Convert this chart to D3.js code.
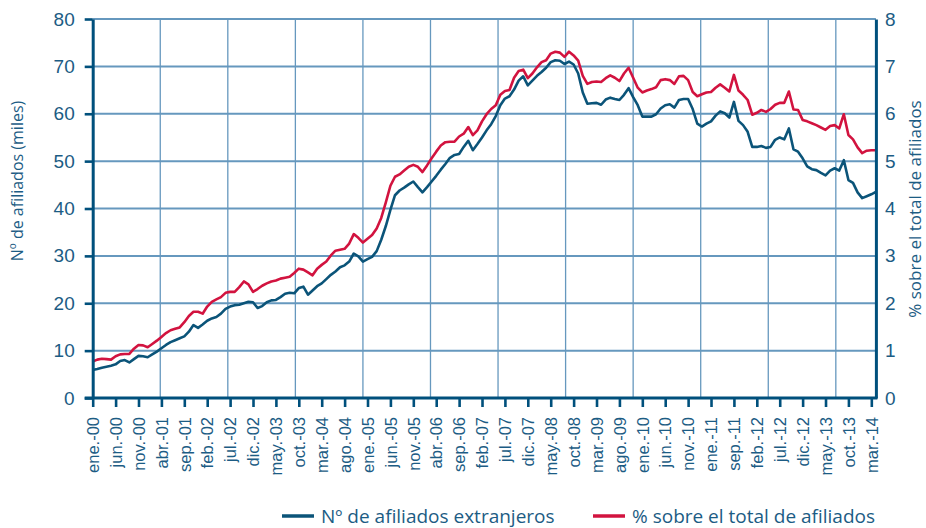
<!DOCTYPE html>
<html lang="es">
<head>
<meta charset="utf-8">
<script src="https://cdn.jsdelivr.net/npm/d3@7"></script>
<style>
  html, body { margin: 0; padding: 0; background: #fff; }
  svg { display: block; font-family: "Open Sans", "Noto Sans", sans-serif; }
</style>
</head>
<body>
<svg id="chart" width="926" height="528"></svg>
<script>
// Etiquetas del eje de meses (una cada cinco meses, desde enero de 2000)
const tickLabels = [
  "ene.-00", "jun.-00", "nov.-00", "abr.-01", "sep.-01", "feb.-02", "jul.-02",
  "dic.-02", "may.-03", "oct.-03", "mar.-04", "ago.-04", "ene.-05", "jun.-05",
  "nov.-05", "abr.-06", "sep.-06", "feb.-07", "jul.-07", "dic.-07", "may.-08",
  "oct.-08", "mar.-09", "ago.-09", "ene.-10", "jun.-10", "nov.-10", "ene.-11",
  "sep.-11", "feb.-12", "jul.-12", "dic.-12", "may.-13", "oct.-13", "mar.-14"
];
const tickEvery = 5;

// Nº de afiliados extranjeros (miles), un valor por mes
const afiliados = [
  5.9, 6.1, 6.4, 6.6, 6.8, 7.1, 7.8, 8.0, 7.5, 8.2, 8.9, 8.8,
  8.6, 9.2, 9.8, 10.5, 11.2, 11.8, 12.2, 12.6, 13.0, 14.0, 15.4, 14.8,
  15.5, 16.3, 16.8, 17.1, 17.8, 18.8, 19.3, 19.6, 19.7, 20.0, 20.3, 20.2,
  19.0, 19.4, 20.2, 20.6, 20.7, 21.3, 22.0, 22.2, 22.1, 23.2, 23.5, 21.8,
  22.7, 23.6, 24.2, 25.1, 26.0, 26.7, 27.6, 28.0, 28.8, 30.5, 29.9, 28.8,
  29.3, 29.8, 31.0, 33.4, 36.3, 39.7, 42.8, 43.8, 44.4, 45.1, 45.7, 44.5,
  43.4, 44.5, 45.7, 46.9, 48.2, 49.4, 50.7, 51.3, 51.5, 53.0, 54.3, 52.3,
  53.6, 55.0, 56.5, 57.8, 59.5, 61.8, 63.2, 63.7, 65.1, 67.0, 67.9, 66.0,
  67.0, 68.0, 68.8, 69.7, 70.9, 71.3, 71.2, 70.5, 71.0, 70.4, 68.5, 64.5,
  62.1, 62.2, 62.3, 61.9, 63.0, 63.4, 63.1, 62.9, 64.0, 65.4, 63.5, 61.8,
  59.4, 59.4, 59.4, 59.9, 61.1, 61.8, 62.0, 61.3, 62.9, 63.1, 63.1, 61.0,
  57.9, 57.3, 57.9, 58.4, 59.6, 60.5, 60.1, 59.2, 62.5, 58.5, 57.6, 56.2,
  53.0, 53.0, 53.2, 52.8, 53.0, 54.5, 55.0, 54.6, 56.9, 52.5, 52.0, 50.6,
  48.9, 48.3, 48.1, 47.5, 47.0, 48.0, 48.5, 48.0, 50.2, 46.0, 45.4, 43.4,
  42.2, 42.6, 43.0, 43.5
];

// % sobre el total de afiliados, un valor por mes
const porcentaje = [
  0.77, 0.81, 0.83, 0.82, 0.81, 0.88, 0.92, 0.93, 0.93, 1.04, 1.12, 1.11,
  1.07, 1.14, 1.21, 1.29, 1.37, 1.43, 1.46, 1.49, 1.60, 1.73, 1.82, 1.82,
  1.78, 1.93, 2.03, 2.08, 2.13, 2.22, 2.24, 2.24, 2.34, 2.46, 2.40, 2.24,
  2.30, 2.37, 2.42, 2.46, 2.48, 2.52, 2.54, 2.56, 2.64, 2.73, 2.71, 2.65,
  2.59, 2.73, 2.81, 2.88, 3.01, 3.11, 3.13, 3.15, 3.26, 3.46, 3.38, 3.28,
  3.36, 3.44, 3.58, 3.80, 4.13, 4.48, 4.67, 4.72, 4.80, 4.88, 4.92, 4.88,
  4.77, 4.91, 5.06, 5.20, 5.33, 5.40, 5.41, 5.41, 5.52, 5.58, 5.72, 5.55,
  5.65, 5.84, 5.99, 6.10, 6.18, 6.40, 6.48, 6.50, 6.76, 6.90, 6.93, 6.75,
  6.85, 6.98, 7.09, 7.13, 7.27, 7.31, 7.29, 7.20, 7.31, 7.23, 7.12, 6.80,
  6.63, 6.67, 6.68, 6.67, 6.75, 6.81, 6.76, 6.69, 6.85, 6.97, 6.76, 6.55,
  6.45, 6.49, 6.52, 6.56, 6.71, 6.73, 6.71, 6.63, 6.79, 6.80, 6.71, 6.46,
  6.37, 6.41, 6.45, 6.46, 6.55, 6.62, 6.55, 6.47, 6.82, 6.49, 6.40, 6.29,
  5.98, 6.02, 6.08, 6.04, 6.10, 6.19, 6.23, 6.23, 6.47, 6.09, 6.08, 5.87,
  5.84, 5.80, 5.76, 5.71, 5.66, 5.74, 5.76, 5.69, 5.99, 5.55, 5.46, 5.29,
  5.17, 5.22, 5.23, 5.23
];

const leftTicks = [0, 10, 20, 30, 40, 50, 60, 70, 80];
const rightTicks = [0, 1, 2, 3, 4, 5, 6, 7, 8];
const seriesNames = ["Nº de afiliados extranjeros", "% sobre el total de afiliados"];
const axisTitles = ["Nº de afiliados (miles)", "% sobre el total de afiliados"];

const colBlue = "#0b5479";
const colRed = "#d2133f";
const colAxis = "#00507c";
const colText = "#1c5c84";
const colGrid = "#6698be";

const svg = d3.select("#chart");
const plotLeft = 92.7, plotRight = 875.9, plotTop = 19, plotBottom = 398;

const x = d3.scaleLinear().domain([0, afiliados.length - 1]).range([plotLeft, plotRight]);
const y = d3.scaleLinear().domain([0, 80]).range([plotBottom, plotTop]);
const yR = d3.scaleLinear().domain([0, 8]).range([plotBottom, plotTop]);

// Rejilla
const gridStep = 14.75;
const gridX = d3.range(gridStep, afiliados.length - 1, gridStep);
const grid = svg.append("g");
grid.selectAll("line.h").data(leftTicks.slice(1)).join("line")
  .attr("x1", plotLeft).attr("x2", plotRight)
  .attr("y1", d => y(d)).attr("y2", d => y(d))
  .attr("stroke", colGrid).attr("stroke-width", 2);
grid.selectAll("line.v").data(gridX).join("line")
  .attr("x1", d => x(d)).attr("x2", d => x(d))
  .attr("y1", plotTop).attr("y2", plotBottom)
  .attr("stroke", colGrid).attr("stroke-width", 1.3);

// Series
const lineL = d3.line().x((d, i) => x(i)).y(d => y(d));
const lineR = d3.line().x((d, i) => x(i)).y(d => yR(d));
svg.append("path").datum(porcentaje).attr("d", lineR)
  .attr("fill", "none").attr("stroke", colRed).attr("stroke-width", 2.6)
  .attr("stroke-linejoin", "round");
svg.append("path").datum(afiliados).attr("d", lineL)
  .attr("fill", "none").attr("stroke", colBlue).attr("stroke-width", 2.6)
  .attr("stroke-linejoin", "round");

// Ejes
function styleAxis(g) {
  g.select(".domain").attr("stroke", colAxis).attr("stroke-width", 3);
  g.selectAll(".tick line").attr("stroke", colAxis).attr("stroke-width", 2.6);
  g.selectAll(".tick text").attr("fill", colText);
}

const axL = svg.append("g").attr("transform", `translate(${plotLeft},0)`)
  .call(d3.axisLeft(y).tickValues(leftTicks).tickSize(8).tickSizeOuter(0).tickPadding(10))
  .call(styleAxis);
axL.selectAll(".tick text").style("font-size", "19px");

const axR = svg.append("g").attr("transform", `translate(${plotRight},0)`)
  .call(d3.axisRight(yR).tickValues(rightTicks).tickSize(0).tickSizeOuter(0).tickPadding(9))
  .call(styleAxis);
axR.selectAll(".tick text").style("font-size", "19px");

const axB = svg.append("g").attr("transform", `translate(0,${plotBottom})`)
  .call(d3.axisBottom(x).tickValues(tickLabels.map((_, k) => k * tickEvery))
    .tickFormat(i => tickLabels[i / tickEvery]).tickSize(9).tickSizeOuter(0))
  .call(styleAxis);
axB.select(".domain").attr("d", `M${plotLeft - 8},0H${plotRight + 1.5}`);
axB.selectAll(".tick text")
  .style("font-size", "16.5px")
  .attr("transform", "rotate(-90)")
  .attr("text-anchor", "end")
  .attr("x", -19).attr("y", 0).attr("dy", "0.35em");

// Títulos de los ejes
svg.append("text")
  .attr("transform", "translate(23,181) rotate(-90)")
  .attr("text-anchor", "middle").attr("fill", colText)
  .style("font-size", "16px").text(axisTitles[0]);
svg.append("text")
  .attr("transform", "translate(921,209) rotate(-90)")
  .attr("text-anchor", "middle").attr("fill", colText)
  .style("font-size", "17px").text(axisTitles[1]);

// Leyenda
const legend = [
  { name: seriesNames[0], color: colBlue, x0: 282 },
  { name: seriesNames[1], color: colRed, x0: 593 }
];
const lg = svg.append("g").selectAll("g").data(legend).join("g")
  .attr("transform", d => `translate(${d.x0},516)`);
lg.append("line").attr("x1", 0).attr("x2", 32).attr("y1", 0).attr("y2", 0)
  .attr("stroke", d => d.color).attr("stroke-width", 3.5);
lg.append("text").attr("x", 39).attr("dy", "0.35em").attr("fill", colText)
  .style("font-size", "19px").text(d => d.name);
</script>
</body>
</html>
